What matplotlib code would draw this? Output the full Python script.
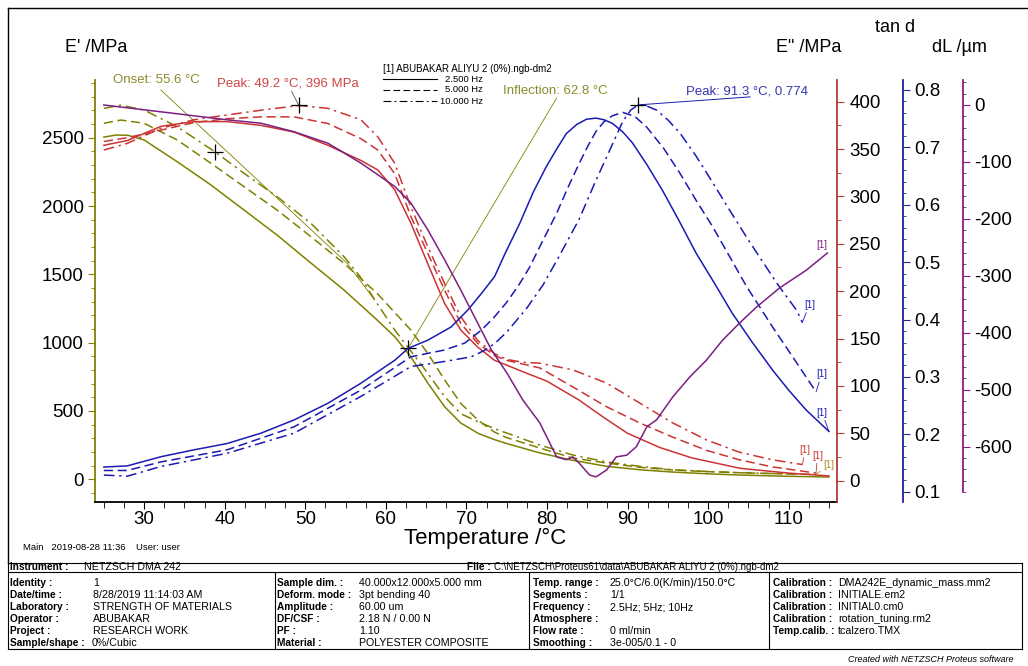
import matplotlib
matplotlib.use("Agg")
import matplotlib.pyplot as plt
from matplotlib.lines import Line2D
from matplotlib.ticker import MultipleLocator

plt.rcParams["font.family"] = ["Liberation Sans", "DejaVu Sans"]
plt.rcParams["axes.unicode_minus"] = False

W, H = 1028, 666

# ---------------- data ----------------
# storage modulus E' (MPa)
t_e1_25 = [25, 26.5, 28, 30, 34.1, 38.3, 42.4, 46.5, 50.7, 54.8, 58.9, 61.1, 63.1, 65.2, 67.3, 69.3, 71.5, 73.5, 75, 79, 83, 87.4, 91.5, 95.6, 100, 104, 110, 115]
e1_25 = [2505, 2520, 2518, 2484, 2325, 2154, 1971, 1788, 1583, 1386, 1167, 1044, 897, 705, 531, 412, 335, 290, 262, 195, 141, 95, 70, 53, 40, 31, 22, 17]
t_e1_50 = [25, 27.1, 30, 34.1, 38.3, 42.4, 46.5, 50.7, 54.8, 58.9, 63.1, 65.2, 67.3, 69.3, 71.5, 73.5, 75, 79.1, 83.2, 87.4, 91.5, 95.6, 100, 104, 108, 113.4]
e1_50 = [2606, 2630, 2606, 2484, 2313, 2142, 1971, 1776, 1581, 1362, 1093, 922, 727, 556, 430, 345, 305, 229, 156, 119, 88, 68, 56, 48, 42, 36]
t_e1_100 = [25, 27.1, 30, 34.1, 38.8, 42.4, 46.5, 50.7, 54.8, 56.8, 58.9, 61.1, 62.8, 65.2, 67.3, 69.3, 71.5, 73.5, 75, 79.1, 83.2, 87.4, 91.5, 95.6, 100, 105, 111.7]
e1_100 = [2715, 2739, 2703, 2581, 2397, 2240, 2069, 1874, 1630, 1484, 1289, 1093, 962, 776, 605, 480, 420, 370, 339, 251, 178, 127, 95, 70, 57, 46, 38]

# loss modulus E'' (MPa)
t_e2_25 = [25, 27.9, 32.1, 36.2, 40.3, 44.5, 48.6, 52.8, 56.9, 59, 61.1, 63.1, 65.2, 67.3, 69.3, 71.4, 73.5, 75, 77, 80, 84, 87, 90, 94, 98, 104, 110, 115]
e2_25 = [354, 359, 374, 379, 379, 375, 368, 354, 338, 328, 307, 272, 229, 187, 159, 141, 127, 122, 115, 105, 85, 67, 50, 35, 24, 13, 8, 5]
t_e2_50 = [25, 27.9, 32.1, 36.2, 40.3, 44.5, 48.6, 52.8, 56.9, 59, 61.1, 63.1, 65.2, 67.3, 69.3, 71.4, 73.5, 75, 79.1, 83.2, 87.4, 91.5, 95.6, 99.8, 103.9, 108, 113.4]
e2_50 = [358, 362, 370, 378, 382, 384, 384, 377, 361, 349, 324, 279, 240, 201, 166, 145, 132, 127, 119, 99, 78, 61, 46, 32, 22, 14.5, 8]
t_e2_100 = [25, 27.9, 32.1, 36.2, 40.3, 44.5, 49.2, 52.8, 56.9, 59, 61.1, 63.1, 65.2, 67.3, 69.3, 71.4, 73.5, 75, 77, 79.1, 83.2, 87.4, 91.5, 95.6, 99.8, 103.9, 108, 111.7]
e2_100 = [349, 356, 372, 381, 386, 391, 396, 393, 381, 363, 335, 289, 247, 208, 173, 148, 134, 128, 125, 124, 117, 103, 82, 61, 43, 30, 22, 17]

# loss factor tan d
t_tan_25 = [25, 27.9, 32.1, 36.2, 40.3, 44.5, 48.6, 52.8, 56.9, 61.1, 62.8, 65.2, 68.1, 70.2, 71.9, 73.5, 74.8, 76.6, 78.3, 79.9, 81.2, 82.4, 83.7, 84.9, 86.1, 87.1, 88.1, 89.4, 90.6, 92.4, 94.3, 96.4, 98.5, 100.8, 103, 105.5, 108, 110, 112.2, 115]
tan_25 = [0.143, 0.145, 0.161, 0.173, 0.184, 0.202, 0.225, 0.254, 0.289, 0.329, 0.350, 0.364, 0.387, 0.417, 0.446, 0.475, 0.515, 0.567, 0.622, 0.666, 0.697, 0.724, 0.740, 0.749, 0.751, 0.748, 0.742, 0.727, 0.708, 0.670, 0.626, 0.572, 0.516, 0.463, 0.411, 0.360, 0.312, 0.277, 0.242, 0.205]
t_tan_50 = [25, 27.9, 32.1, 40.3, 48.6, 56.9, 63.1, 67.3, 69.8, 71.9, 73.5, 75, 76.5, 77.8, 79.5, 81.2, 82.6, 84, 85.1, 86.1, 87.1, 88.1, 89.4, 90.9, 92.4, 94.5, 96.5, 98.5, 100.6, 102.7, 104.8, 106.5, 108, 110.5, 113.4]
tan_50 = [0.137, 0.137, 0.152, 0.173, 0.213, 0.277, 0.335, 0.347, 0.359, 0.382, 0.405, 0.430, 0.460, 0.490, 0.538, 0.585, 0.630, 0.672, 0.703, 0.728, 0.745, 0.755, 0.761, 0.754, 0.735, 0.698, 0.655, 0.608, 0.561, 0.509, 0.457, 0.420, 0.387, 0.335, 0.274]
t_tan_100 = [25, 27.9, 32.1, 40.3, 48.6, 56.9, 63.1, 67.3, 70.6, 72.2, 73.5, 75, 77.5, 79.5, 81.5, 84, 86, 87.4, 88.5, 89.4, 90.4, 91.3, 92.4, 93.6, 95, 96.5, 98.5, 100.6, 102.7, 104.8, 106.9, 108.9, 111, 111.7]
tan_100 = [0.129, 0.127, 0.144, 0.167, 0.202, 0.266, 0.318, 0.327, 0.335, 0.346, 0.358, 0.378, 0.420, 0.460, 0.510, 0.575, 0.640, 0.683, 0.717, 0.745, 0.765, 0.774, 0.772, 0.765, 0.748, 0.725, 0.685, 0.638, 0.590, 0.543, 0.498, 0.456, 0.416, 0.395]

# length change dL (um)
t_dl = [25, 32.1, 40.3, 44.5, 48.6, 52.8, 56.9, 61.1, 63.1, 65.2, 67.3, 69.3, 71.4, 73.1, 75, 77, 79.1, 81.2, 82.4, 83.2, 84, 85.3, 86.1, 87.4, 88.6, 89.9, 91.1, 92.4, 93.6, 95.6, 97.7, 99.8, 101.8, 103.9, 106, 108.9, 112.2, 114.8]
dl = [0, -12, -26, -32, -47, -67, -102, -143, -172, -219, -272, -325, -383, -430, -470, -518, -558, -618, -623, -618, -629, -650, -653, -641, -618, -615, -600, -565, -553, -513, -478, -448, -413, -383, -355, -321, -290, -260]

freq_labels = ["2.500 Hz", "5.000 Hz", "10.000 Hz"]
file_title = "[1] ABUBAKAR ALIYU 2 (0%).ngb-dm2"

# ---------------- styles ----------------
OLIVE = "#808000"
RED = "#cc3333"
RED_AX = "#b03a3a"
BLUE = "#1a1ab4"
BLUE_AX = "#22229a"
PURPLE = "#7b1f82"
PURPLE_AX = "#8b1a8b"
LS = ["-", (0, (6, 3)), (0, (7, 3, 1.5, 3))]
LW = 1.1


def fx(x):
    return x / W


def fy(y):
    return 1 - y / H


fig = plt.figure(figsize=(W / 100, H / 100), dpi=100)
fig.patch.set_facecolor("white")

L, R, T, B = 95, 837, 80, 501.7
ax = fig.add_axes([fx(L), fy(B), (R - L) / W, (B - T) / H])
ax.set_xlim(23.9, 116.0)
ax.set_ylim(-164, 2923)

ax2 = ax.twinx()
ax2.set_ylim(-22.2, 422.9)
ax3 = ax.twinx()
ax3.set_ylim(0.0826, 0.8174)
ax4 = ax.twinx()
ax4.set_ylim(-696.7, 43.9)

ax3.spines["right"].set_position(("axes", (903 - L) / (R - L)))
ax4.spines["right"].set_position(("axes", (963 - L) / (R - L)))
ax4.spines["right"].set_bounds(-680, 43.9)

for a in (ax, ax2, ax3, ax4):
    a.spines["top"].set_visible(False)
for a in (ax2, ax3, ax4):
    a.spines["left"].set_visible(False)
    a.spines["bottom"].set_visible(False)
ax.spines["right"].set_visible(False)

ax.spines["left"].set_color(OLIVE)
ax.spines["bottom"].set_color("black")
ax2.spines["right"].set_color(RED_AX)
ax3.spines["right"].set_color(BLUE_AX)
ax4.spines["right"].set_color(PURPLE_AX)
for a in (ax, ax2, ax3, ax4):
    for s in a.spines.values():
        s.set_linewidth(1.3)

FS = 13.5
ax.set_xticks(range(30, 111, 10))
ax.xaxis.set_minor_locator(MultipleLocator(2.5))
ax.tick_params(axis="x", which="both", direction="out", color="black", labelsize=FS, pad=2)
ax.tick_params(axis="x", which="major", length=5)
ax.tick_params(axis="x", which="minor", length=4)

ax.set_yticks(range(0, 2501, 500))
ax.yaxis.set_minor_locator(MultipleLocator(100))
ax.tick_params(axis="y", which="both", direction="out", color=OLIVE, labelsize=FS, pad=3)
ax.tick_params(axis="y", which="major", length=5)
ax.tick_params(axis="y", which="minor", length=3)

ax2.set_yticks(range(0, 401, 50))
ax2.yaxis.set_minor_locator(MultipleLocator(25))
ax2.tick_params(axis="y", which="both", direction="out", color=RED_AX, labelsize=FS, pad=4)
ax2.tick_params(axis="y", which="major", length=5)
ax2.tick_params(axis="y", which="minor", length=3)

ax3.set_yticks([0.1, 0.2, 0.3, 0.4, 0.5, 0.6, 0.7, 0.8])
ax3.set_yticklabels(["0.1", "0.2", "0.3", "0.4", "0.5", "0.6", "0.7", "0.8"])
ax3.yaxis.set_minor_locator(MultipleLocator(0.02))
ax3.tick_params(axis="y", which="both", direction="out", color=BLUE_AX, labelsize=FS, pad=3)
ax3.tick_params(axis="y", which="major", length=5)
ax3.tick_params(axis="y", which="minor", length=2.5)

ax4.set_yticks(range(-600, 1, 100))
ax4.yaxis.set_minor_locator(MultipleLocator(20))
ax4.tick_params(axis="y", which="both", direction="out", color=PURPLE_AX, labelsize=FS, pad=3)
ax4.tick_params(axis="y", which="major", length=5)
ax4.tick_params(axis="y", which="minor", length=2.5)

# ---------------- curves ----------------
for t, v, ls in zip([t_e1_25, t_e1_50, t_e1_100], [e1_25, e1_50, e1_100], LS):
    ax.plot(t, v, color=OLIVE, lw=LW, ls=ls)
for t, v, ls in zip([t_e2_25, t_e2_50, t_e2_100], [e2_25, e2_50, e2_100], LS):
    ax2.plot(t, v, color=RED, lw=LW, ls=ls)
for t, v, ls in zip([t_tan_25, t_tan_50, t_tan_100], [tan_25, tan_50, tan_100], LS):
    ax3.plot(t, v, color=BLUE, lw=LW, ls=ls)
ax4.plot(t_dl, dl, color=PURPLE, lw=LW)

# ---------------- evaluation marks ----------------
mk = dict(marker="+", color="black", ms=11, mew=0.9, ls="none", zorder=5)
# onset tangent of E'
ax.plot([32.07, 55.2, 58.6], [2850, 1581, 1313], color=OLIVE, lw=0.6)
ax.plot([38.8], [2397], **mk)
# inflection of E'
ax.plot([81.2, 62.8], [2791, 962], color=OLIVE, lw=0.6)
ax.plot([62.8], [962], **mk)
# peak of E''
ax2.plot([48.3, 49.2], [411, 396], color="#555555", lw=0.6)
ax2.plot([49.2], [396], **mk)
# peak of tan d
ax3.plot([91.3, 105.2], [0.774, 0.788], color=BLUE, lw=0.7)
ax3.plot([91.3], [0.774], **mk)

ann = dict(fontsize=9.5, va="center", ha="left")
fig.text(fx(113), fy(80), "Onset: 55.6 °C", color="#8c8c2c", **ann)
fig.text(fx(217), fy(84), "Peak: 49.2 °C, 396 MPa", color="#d04545", **ann)
fig.text(fx(503), fy(91), "Inflection: 62.8 °C", color="#8c8c2c", **ann)
fig.text(fx(686), fy(91), "Peak: 91.3 °C, 0.774", color="#3535b0", **ann)

# curve end tags
def end_tag(a, x, y, dx, dy, color):
    a.annotate("[1]", xy=(x, y), xytext=(dx, dy), textcoords="offset points", color=color,
               fontsize=7, ha="center", va="bottom",
               arrowprops=dict(arrowstyle="-", lw=0.6, color=color, shrinkA=0, shrinkB=0))


end_tag(ax3, t_tan_25[-1], tan_25[-1], -5, 10, BLUE)
end_tag(ax3, t_tan_50[-1], tan_50[-1], 4, 9, BLUE)
end_tag(ax3, t_tan_100[-1], tan_100[-1], 5, 9, BLUE)
ax4.annotate("[1]", xy=(t_dl[-1], dl[-1]), xytext=(-4, 2), textcoords="offset points",
             color=PURPLE, fontsize=7, ha="center", va="bottom")
end_tag(ax2, t_e2_100[-1], e2_100[-1], 2, 7, RED)
end_tag(ax2, t_e2_50[-1], e2_50[-1], 1, 9, RED)
end_tag(ax, t_e1_50[-1], e1_50[-1], 9, 3, "#b08a20")

# ---------------- legend ----------------
fig.text(fx(383), fy(69), file_title, fontsize=7, va="center", ha="left")
for i, (lab, ls) in enumerate(zip(freq_labels, LS)):
    yy = fy(79 + 11 * i)
    fig.add_artist(Line2D([fx(383), fx(437)], [yy, yy], color="black", lw=0.8, ls=ls))
    fig.text(fx(483), yy, lab, fontsize=6.8, va="center", ha="right")

# ---------------- axis titles ----------------
fig.text(fx(65), fy(47), "E' /MPa", fontsize=13, va="center", ha="left")
fig.text(fx(776), fy(47), 'E" /MPa', fontsize=13, va="center", ha="left")
fig.text(fx(875), fy(28), "tan d", fontsize=13, va="center", ha="left")
fig.text(fx(932), fy(47), "dL /µm", fontsize=13, va="center", ha="left")
fig.text(fx(485), fy(538), "Temperature /°C", fontsize=16, va="center", ha="center")

# ---------------- frame and info table ----------------
def hline(y, x0, x1, lw=0.8):
    fig.add_artist(Line2D([fx(x0), fx(x1)], [fy(y), fy(y)], color="black", lw=lw))


def vline(x, y0, y1, lw=0.8):
    fig.add_artist(Line2D([fx(x), fx(x)], [fy(y0), fy(y1)], color="black", lw=lw))


hline(8, 8, W, 1.0)
vline(8, 8, 563, 1.0)
fig.text(fx(23), fy(548), "Main   2019-08-28 11:36    User: user", fontsize=6.8, va="center")

hline(563, 8, 1022)
hline(572, 8, 1022)
hline(649, 8, 1022)
vline(8, 563, 649)
vline(1022, 563, 649)
for xv in (275, 529, 769):
    vline(xv, 572, 649)

TFS = 7.7   # values
LFS = 7.3   # bold field names
fig.text(fx(10), fy(567.5), "Instrument :", fontsize=LFS, weight="bold", va="center")
fig.text(fx(84), fy(567.5), "NETZSCH DMA 242", fontsize=TFS, va="center")
fig.text(fx(467), fy(567.5), "File :", fontsize=LFS, weight="bold", va="center")
fig.text(fx(494), fy(567.5), r"C:\NETZSCH\Proteus61\data\ABUBAKAR ALIYU 2 (0%).ngb-dm2", fontsize=7.0, va="center")

col_labels = [
    ["Identity :", "Date/time :", "Laboratory :", "Operator :", "Project :", "Sample/shape :"],
    ["Sample dim. :", "Deform. mode :", "Amplitude :", "DF/CSF :", "PF :", "Material :"],
    ["Temp. range :", "Segments :", "Frequency :", "Atmosphere :", "Flow rate :", "Smoothing :"],
    ["Calibration :", "Calibration :", "Calibration :", "Calibration :", "Temp.calib. :", ""],
]
col_values = [
    ["1", "8/28/2019 11:14:03 AM", "STRENGTH OF MATERIALS", "ABUBAKAR", "RESEARCH WORK", "0%/Cubic"],
    ["40.000x12.000x5.000 mm", "3pt bending 40", "60.00 um", "2.18 N / 0.00 N", "1.10", "POLYESTER COMPOSITE"],
    ["25.0°C/6.0(K/min)/150.0°C", "1/1", "2.5Hz; 5Hz; 10Hz", "", "0 ml/min", "3e-005/0.1 - 0"],
    ["DMA242E_dynamic_mass.mm2", "INITIALE.em2", "INITIAL0.cm0", "rotation_tuning.rm2", "tcalzero.TMX", ""],
]
label_x = [10, 277, 533, 773]
value_x = [93, 359, 610, 838]
for c in range(4):
    for r in range(6):
        yy = fy(583 + 12 * r)
        fig.text(fx(label_x[c]), yy, col_labels[c][r], fontsize=LFS, weight="bold", va="center")
        vx = 92 if (c == 0 and r == 5) else value_x[c]
        fig.text(fx(vx), yy, col_values[c][r], fontsize=TFS, va="center")

fig.text(fx(848), fy(660), "Created with NETZSCH Proteus software", fontsize=6.5, style="italic", va="center")

fig.savefig("out.png", dpi=100)
